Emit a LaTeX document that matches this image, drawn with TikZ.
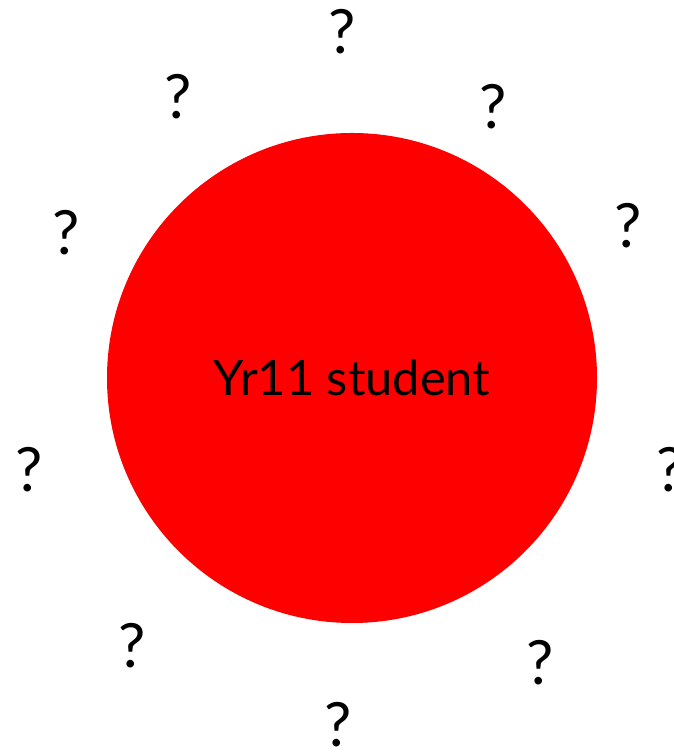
\documentclass[tikz,border=0pt]{standalone}
\usepackage{fontspec}
\setmainfont{Lato}
\begin{document}
\begin{tikzpicture}[x=1pt,y=1pt,
  qmark/.style={inner sep=0pt,font=\fontsize{61}{61}\selectfont},
  student/.style={circle,fill=red,minimum size=490pt,inner sep=0pt,font=\fontsize{48.8}{48.8}\selectfont}]
\useasboundingbox (0,0) rectangle (673,754);
\node[student] (s) at (352,376) {Yr11 student};
\node[qmark] (q1) at (342,722) {?};
\node[qmark] (q2) at (178,657) {?};
\node[qmark] (q3) at (493,647) {?};
\node[qmark] (q4) at (66,521) {?};
\node[qmark] (q5) at (628,528) {?};
\node[qmark] (q6) at (29,284) {?};
\node[qmark] (q7) at (670,284) {?};
\node[qmark] (q8) at (132,108) {?};
\node[qmark] (q9) at (540,91) {?};
\node[qmark] (q10) at (338,29) {?};
\end{tikzpicture}
\end{document}
